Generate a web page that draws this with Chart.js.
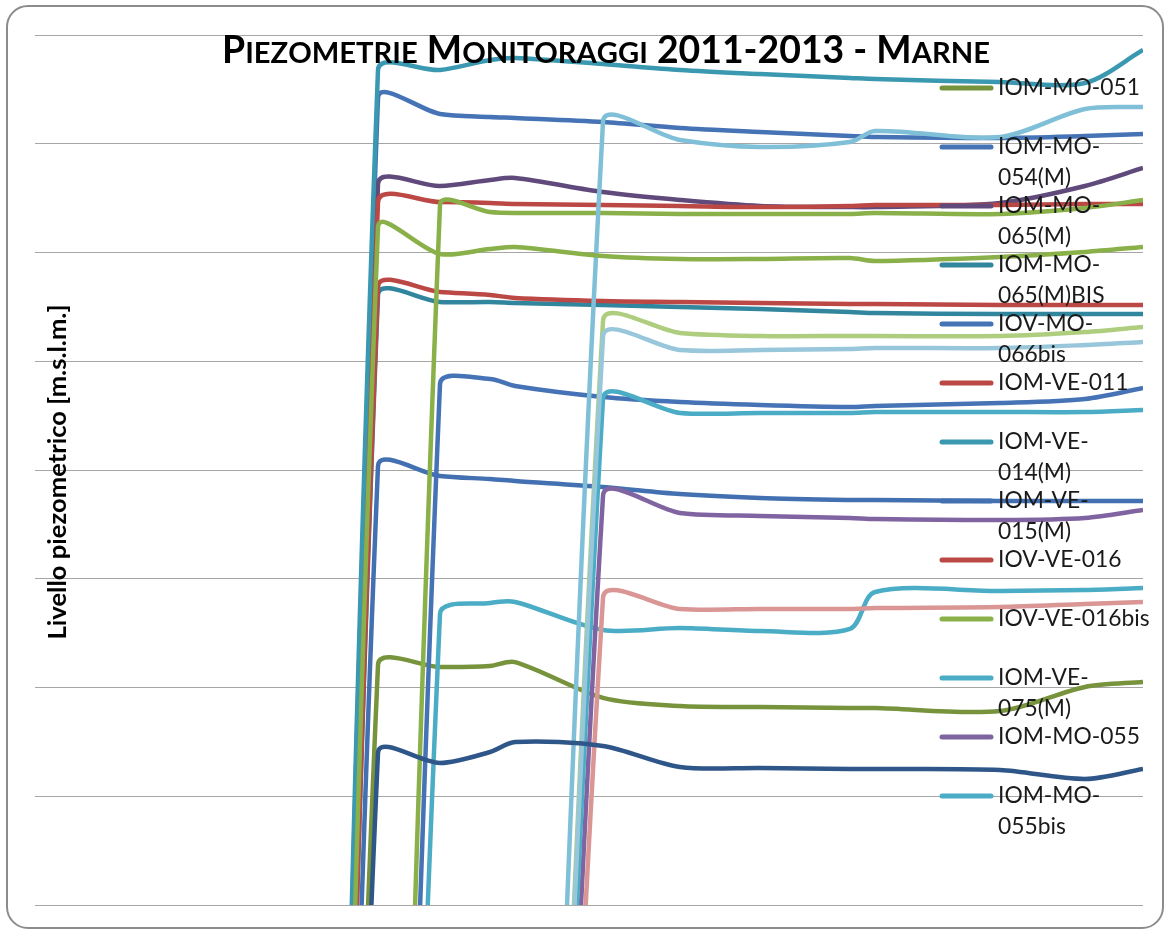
<!DOCTYPE html>
<html lang="it">
<head>
<meta charset="utf-8">
<title>Piezometrie Monitoraggi 2011-2013 - Marne</title>
<script src="https://cdn.jsdelivr.net/npm/chart.js@4.4.1/dist/chart.umd.min.js"></script>
<style>
  html, body { margin: 0; padding: 0; background: #fff; }
  #wrap { position: relative; width: 1169px; height: 932px; }
  #cornice {
    position: absolute; left: 6px; top: 5px; width: 1158px; height: 924px;
    border: 2px solid #8c8c8c; border-radius: 22px; box-sizing: border-box;
    pointer-events: none;
  }
</style>
</head>
<body>
<div id="wrap">
  <canvas id="grafico"></canvas>
  <div id="cornice"></div>
</div>
<script>
// giorni dal 01/01/2011 (date delle campagne di misura)
const giorni = [250, 295, 343, 405, 428, 455, 480, 568, 645, 725, 815, 840, 965, 1050, 1108];

// livelli piezometrici [m s.l.m.] - 0 = cella vuota prima della prima misura
const iomMo051     = [0, null, 322.07, 321.89, null, 321.98, 322.34, 319.05, 318.30, 318.21, 318.11, 318.11, 317.84, 320.05, 320.51];
const iomMo054M    = [0, null, 374.21, 372.74, null, 372.46, 372.37, 372.00, 371.45, 371.08, 370.71, 370.62, 370.53, 370.71, 370.90];
const iomMo065M    = [0, null, 366.30, 366.11, null, 366.67, 366.85, 365.56, 364.83, 364.28, 364.18, 364.18, 364.55, 366.11, 367.77];
const iomMo065MBis = [0, null, 356.09, 355.45, null, 355.45, 355.36, 355.17, 354.99, 354.80, 354.53, 354.44, 354.34, 354.34, 354.34];
const iovMo066bis  = [null, 0, null, 347.91, null, 348.37, 347.72, 346.71, 346.25, 345.98, 345.79, 345.89, 346.16, 346.53, 347.54];
const iomVe011     = [0, null, 364.64, 364.64, null, 364.55, 364.46, 364.37, 364.28, 364.18, 364.28, 364.37, 364.37, 364.46, 364.46];
const iomVe014M    = [0, null, 376.78, 376.78, null, 377.70, 377.89, 377.33, 376.78, 376.41, 376.05, 375.95, 375.68, 375.59, 378.62];
const iomVe015M    = [0, null, 340.37, 339.45, null, 339.17, 338.99, 338.44, 337.79, 337.43, 337.24, 337.24, 337.15, 337.15, 337.15];
const iovVe016     = [0, null, 356.83, 356.37, null, 356.09, 355.82, 355.54, 355.45, 355.36, 355.26, 355.26, 355.17, 355.17, 355.17];
const iovVe016bis  = [null, 0, null, 364.37, null, 363.72, 363.63, 363.63, 363.54, 363.54, 363.54, 363.63, 363.54, 364.09, 364.83];
const iomVe075M    = [null, 0, null, 326.76, null, 327.77, 327.86, 325.29, 325.47, 325.20, 325.38, 328.78, 328.87, 328.97, 329.15];
const iomMo055     = [null, null, null, null, 0, null, null, 337.61, 336.05, 335.77, 335.59, 335.49, 335.40, 335.59, 336.32];
const iomMo055bis  = [null, null, null, null, 0, null, null, 346.53, 345.24, 345.24, 345.24, 345.33, 345.33, 345.33, 345.52];
// serie presenti nel grafico ma tagliate fuori dalla legenda
const serie14      = [null, null, null, null, 0, null, null, 372.00, 370.34, 369.70, 370.16, 371.17, 370.62, 373.20, 373.38];
const serie15      = [0, null, 362.34, 359.86, null, 360.32, 360.51, 359.68, 359.40, 359.40, 359.49, 359.22, 359.59, 360.05, 360.51];
const serie16      = [null, null, null, null, 0, null, null, 353.70, 352.60, 352.32, 352.32, 352.32, 352.32, 352.69, 353.15];
const serie17      = [null, null, null, null, 0, null, null, 352.23, 351.03, 351.03, 351.13, 351.22, 351.22, 351.49, 351.77];
const serie18      = [null, null, null, null, 0, null, null, 328.23, 327.22, 327.22, 327.22, 327.31, 327.40, 327.68, 327.86];
const serie19      = [0, null, 313.98, 313.06, null, 314.07, 314.99, 314.62, 312.69, 312.60, 312.51, 312.51, 312.41, 311.59, 312.51];

const nomi = ['IOM-MO-051', 'IOM-MO-054(M)', 'IOM-MO-065(M)', 'IOM-MO-065(M)BIS', 'IOV-MO-066bis',
  'IOM-VE-011', 'IOM-VE-014(M)', 'IOM-VE-015(M)', 'IOV-VE-016', 'IOV-VE-016bis', 'IOM-VE-075(M)',
  'IOM-MO-055', 'IOM-MO-055bis', 'Serie14', 'Serie15', 'Serie16', 'Serie17', 'Serie18', 'Serie19'];
const valori = [iomMo051, iomMo054M, iomMo065M, iomMo065MBis, iovMo066bis, iomVe011, iomVe014M,
  iomVe015M, iovVe016, iovVe016bis, iomVe075M, iomMo055, iomMo055bis,
  serie14, serie15, serie16, serie17, serie18, serie19];
const colori = ['#77933c', '#4573b5', '#604a7b', '#31859c', '#4573b5', '#bb4844', '#3b98b1',
  '#4370b0', '#bb4844', '#8ab04a', '#4bacc6', '#8064a2', '#4bacc6',
  '#7fc0d8', '#8ab04a', '#aecd7f', '#98c6da', '#d99694', '#2f5689'];
const voci = 13; // voci visibili in legenda

const FONT = 'Lato, "DejaVu Sans", sans-serif';

// dimensione del font che porta il testo alla larghezza voluta
function adatta(ctx, testo, peso, larghezza) {
  ctx.font = peso + ' 100px ' + FONT;
  return 100 * larghezza / ctx.measureText(testo).width;
}

// maiuscoletto a mano (le minuscole diventano maiuscole più piccole)
function maiuscoletto(ctx, testo, x, y, size, disegna) {
  let cx = x;
  for (const ch of testo) {
    const piccola = ch !== ch.toUpperCase();
    ctx.font = 'bold ' + (piccola ? size * 0.78 : size) + 'px ' + FONT;
    const c = ch.toUpperCase();
    if (disegna) ctx.fillText(c, cx, y);
    cx += ctx.measureText(c).width;
  }
  return cx - x;
}

// a capo dopo un trattino come fa Excel
function aCapo(ctx, testo, maxW) {
  if (ctx.measureText(testo).width <= maxW) return [testo];
  for (let i = testo.length - 1; i > 0; i--) {
    if (testo[i] === '-' && ctx.measureText(testo.slice(0, i + 1)).width <= maxW) {
      return [testo.slice(0, i + 1), testo.slice(i + 1)];
    }
  }
  return [testo];
}

const decorazioni = {
  id: 'decorazioni',
  afterDraw(chart) {
    const ctx = chart.ctx;
    ctx.save();
    ctx.fillStyle = '#000';

    // titolo
    const titolo = 'Piezometrie Monitoraggi 2011-2013 - Marne';
    const w40 = maiuscoletto(ctx, titolo, 0, 0, 40, false);
    const sizeT = 40 * 768 / w40;
    ctx.textBaseline = 'alphabetic';
    ctx.textAlign = 'left';
    maiuscoletto(ctx, titolo, 222, 63, sizeT, true);

    // titolo asse verticale
    const etichetta = 'Livello piezometrico [m.s.l.m.]';
    const sizeY = adatta(ctx, etichetta, 'bold', 335);
    ctx.save();
    ctx.translate(58, 472);
    ctx.rotate(-Math.PI / 2);
    ctx.font = 'bold ' + sizeY + 'px ' + FONT;
    ctx.textAlign = 'center';
    ctx.textBaseline = 'middle';
    ctx.fillText(etichetta, 0, 0);
    ctx.restore();

    // legenda
    const sizeL = adatta(ctx, 'IOM-MO-051', 'normal', 142);
    ctx.font = sizeL + 'px ' + FONT;
    const maxW = ctx.measureText('IOV-VE-016bis').width + 2;
    ctx.textAlign = 'left';
    ctx.textBaseline = 'middle';
    ctx.fillStyle = '#1a1a1a';
    for (let i = 0; i < voci; i++) {
      const y = 88 + 59 * i;
      ctx.strokeStyle = colori[i];
      ctx.lineWidth = 5;
      ctx.lineCap = 'round';
      ctx.beginPath();
      ctx.moveTo(942, y);
      ctx.lineTo(991, y);
      ctx.stroke();
      aCapo(ctx, nomi[i], maxW).forEach((riga, k) => ctx.fillText(riga, 998, y + k * 30.5));
    }
    ctx.restore();
  }
};

const datasets = nomi.map((nome, i) => ({
  label: nome,
  data: giorni.map((g, j) => ({ x: g, y: valori[i][j] })).filter(p => p.y !== null),
  borderColor: colori[i],
  backgroundColor: colori[i],
  order: nomi.length - i // come in Excel: le ultime serie sopra
}));

new Chart(document.getElementById('grafico'), {
  type: 'line',
  data: { datasets },
  options: {
    responsive: true,
    maintainAspectRatio: false,
    animation: false,
    layout: { padding: { left: 35, right: 26, top: 35, bottom: 27 } },
    elements: {
      point: { radius: 0 },
      line: { tension: 0.3, borderWidth: 4.5 }
    },
    plugins: {
      legend: { display: false },
      tooltip: { enabled: false }
    },
    scales: {
      x: { type: 'linear', min: 0, max: 1108, display: false },
      y: {
        min: 300,
        max: 380,
        ticks: { display: false, stepSize: 10 },
        grid: { color: '#a6a6a6', lineWidth: 1, drawTicks: false },
        border: { display: false }
      }
    }
  },
  plugins: [decorazioni]
});
</script>
</body>
</html>
